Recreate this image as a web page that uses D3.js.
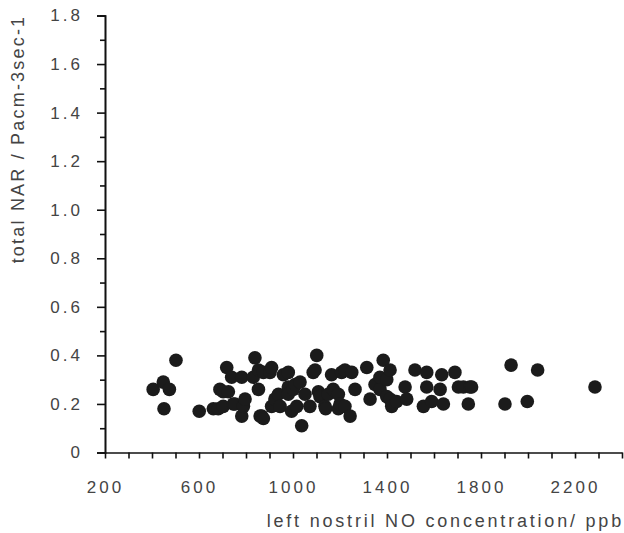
<!DOCTYPE html>
<html>
<head>
<meta charset="utf-8">
<script src="https://cdn.jsdelivr.net/npm/d3@7/dist/d3.min.js"></script>
<style>
  body { margin: 0; background: #fff; }
  svg text { font-family: "Liberation Sans", Arial, sans-serif; fill: #444; }
</style>
</head>
<body>
<script>
// left nostril NO (ppb) against total NAR
var noConc = [405, 448, 474, 451, 502, 601, 661, 682, 689, 703, 703, 718, 725, 739, 746, 753,
  782, 782, 789, 796, 831, 838, 853, 853, 860, 867, 874, 874, 902, 909, 909, 923, 938, 945,
  959, 980, 980, 980, 994, 1001, 1009, 1016, 1030, 1037, 1051, 1072, 1086, 1094, 1101, 1108,
  1115, 1136, 1139, 1150, 1164, 1171, 1193, 1193, 1200, 1207, 1221, 1221, 1243, 1250, 1264,
  1314, 1328, 1349, 1370, 1370, 1384, 1399, 1399, 1413, 1413, 1420, 1441, 1477, 1484, 1519,
  1555, 1569, 1569, 1590, 1626, 1633, 1640, 1689, 1704, 1725, 1746, 1753, 1760, 1902, 1928,
  1997, 2041, 2285];
var narTotal = [0.26, 0.29, 0.26, 0.18, 0.38, 0.17, 0.18, 0.18, 0.26, 0.25, 0.19, 0.35, 0.25, 0.31, 0.20, 0.20,
  0.31, 0.15, 0.19, 0.22, 0.31, 0.39, 0.34, 0.26, 0.15, 0.15, 0.33, 0.14, 0.33, 0.35, 0.19, 0.22, 0.24, 0.19,
  0.32, 0.33, 0.27, 0.24, 0.17, 0.26, 0.28, 0.19, 0.29, 0.11, 0.24, 0.19, 0.33, 0.34, 0.40, 0.25,
  0.23, 0.19, 0.18, 0.24, 0.32, 0.26, 0.24, 0.18, 0.20, 0.33, 0.34, 0.19, 0.15, 0.33, 0.26,
  0.35, 0.22, 0.28, 0.26, 0.31, 0.38, 0.30, 0.23, 0.34, 0.22, 0.19, 0.21, 0.27, 0.22, 0.34,
  0.19, 0.33, 0.27, 0.21, 0.26, 0.32, 0.20, 0.33, 0.27, 0.27, 0.20, 0.27, 0.27, 0.20, 0.36,
  0.21, 0.34, 0.27];

var xTickLabels = [200, 600, 1000, 1400, 1800, 2200];
var yTickLabels = ["0", "0.2", "0.4", "0.6", "0.8", "1.0", "1.2", "1.4", "1.6", "1.8"];
var xTitle = "left nostril NO concentration/ ppb";
var yTitle = "total NAR / Pacm-3sec-1";

var width = 624, height = 533;

var svg = d3.select("body").append("svg")
  .attr("width", width)
  .attr("height", height);

var x = d3.scaleLinear().domain([200, 2400]).range([105, 622]);
var y = d3.scaleLinear().domain([0, 1.8]).range([452.5, 15.5]);

// y axis: minor ticks every 0.1, labelled ticks every 0.2
var yMinor = d3.axisLeft(y)
  .tickValues(d3.range(1, 18, 2).map(function(d){ return d / 10; }))
  .tickSize(5)
  .tickFormat("");
var yMajor = d3.axisLeft(y)
  .tickValues(yTickLabels.map(Number))
  .tickSize(8)
  .tickPadding(14)
  .tickFormat(function(d, i){ return yTickLabels[i]; });

svg.append("g").attr("class", "y axis minor")
  .attr("transform", "translate(105,0)")
  .call(yMinor);
svg.append("g").attr("class", "y axis")
  .attr("transform", "translate(105,0)")
  .call(yMajor);

// x axis: ticks every 100 ppb, labels every 400
var xAxis = d3.axisBottom(x)
  .tickValues(d3.range(200, 2401, 100))
  .tickSize(6)
  .tickSizeOuter(0)
  .tickPadding(22)
  .tickFormat(function(d){ return xTickLabels.indexOf(d) >= 0 ? d : ""; });

svg.append("g").attr("class", "x axis")
  .attr("transform", "translate(0," + y(0) + ")")
  .call(xAxis);

svg.selectAll(".axis path, .axis line")
  .attr("stroke", "#111")
  .attr("stroke-width", 1.6);
svg.selectAll(".axis text")
  .attr("font-size", 17)
  .attr("letter-spacing", 3)
  .attr("font-family", "\"Liberation Sans\", Arial, sans-serif")
  .attr("fill", "#444");

// points
svg.append("g").selectAll("circle")
  .data(noConc)
  .enter()
  .append("circle")
  .attr("cx", function(d){ return x(d); })
  .attr("cy", function(d, i){ return y(narTotal[i]); })
  .attr("r", 6.8)
  .attr("fill", "#1b1b1b");

// titles
svg.append("text")
  .attr("x", 624)
  .attr("y", 527)
  .attr("text-anchor", "end")
  .attr("font-size", 18)
  .attr("letter-spacing", 2.8)
  .text(xTitle);

svg.append("text")
  .attr("transform", "translate(24,139) rotate(-90)")
  .attr("text-anchor", "middle")
  .attr("font-size", 18)
  .attr("letter-spacing", 2.2)
  .text(yTitle);
</script>
</body>
</html>
